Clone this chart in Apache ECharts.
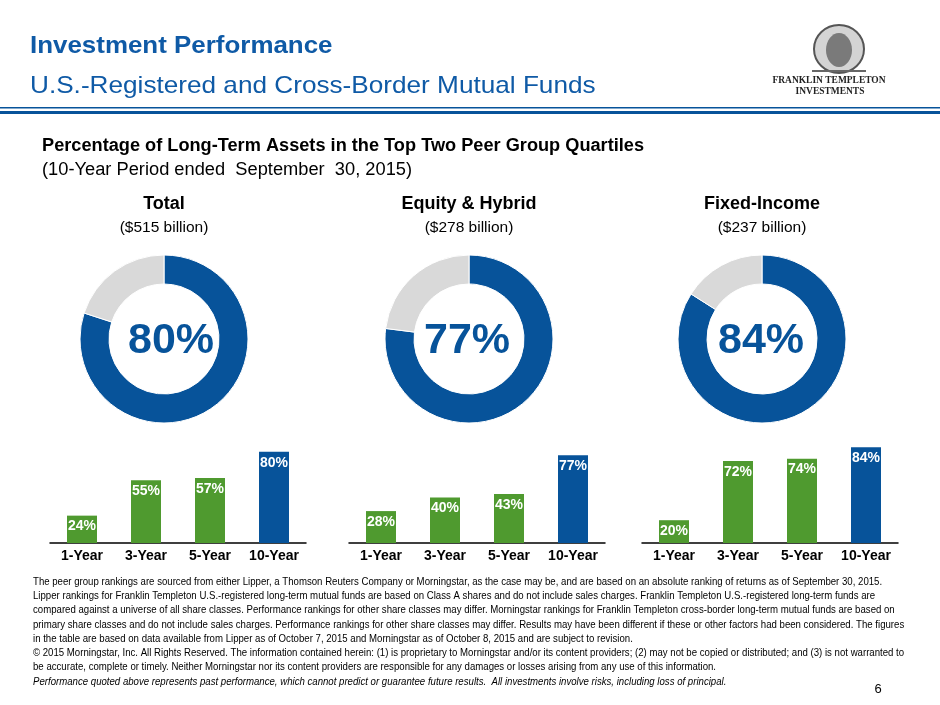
<!DOCTYPE html>
<html>
<head>
<meta charset="utf-8">
<script src="https://cdn.jsdelivr.net/npm/echarts@6/dist/echarts.min.js"></script>
<style>
  html, body { margin: 0; padding: 0; background: #fff; }
  #main { width: 940px; height: 705px; }
</style>
</head>
<body>
<div id="main"></div>
<script>
// data
var groupNames = ['Total', 'Equity & Hybrid', 'Fixed-Income'];
var groupAssets = ['($515 billion)', '($278 billion)', '($237 billion)'];
var donutPct = [80, 77, 84];
var periods = ['1-Year', '3-Year', '5-Year', '10-Year'];
var totalBars = [24, 55, 57, 80];
var equityBars = [28, 40, 43, 77];
var fixedBars = [20, 72, 74, 84];

var footLines = [
  'The peer group rankings are sourced from either Lipper, a Thomson Reuters Company or Morningstar, as the case may be, and are based on an absolute ranking of returns as of September 30, 2015.',
  'Lipper rankings for Franklin Templeton U.S.-registered long-term mutual funds are based on Class A shares and do not include sales charges. Franklin Templeton U.S.-registered long-term funds are',
  'compared against a universe of all share classes. Performance rankings for other share classes may differ. Morningstar rankings for Franklin Templeton cross-border long-term mutual funds are based on',
  'primary share classes and do not include sales charges. Performance rankings for other share classes may differ. Results may have been different if these or other factors had been considered. The figures',
  'in the table are based on data available from Lipper as of October 7, 2015 and Morningstar as of October 8, 2015 and are subject to revision.',
  '\u00a9 2015 Morningstar, Inc. All Rights Reserved. The information contained herein: (1) is proprietary to Morningstar and/or its content providers; (2) may not be copied or distributed; and (3) is not warranted to',
  'be accurate, complete or timely. Neither Morningstar nor its content providers are responsible for any damages or losses arising from any use of this information.'
];
var footItalic = 'Performance quoted above represents past performance, which cannot predict or guarantee future results.  All investments involve risks, including loss of principal.';

var BLUE = '#07539a';
var GREEN = '#4f9a2f';
var GREY = '#d9d9d9';
var TITLE = '#0f5aa6';
var FONT = '"Liberation Sans", Arial, sans-serif';
var SERIF = '"Liberation Serif", "DejaVu Serif", serif';

var centersX = [164, 469, 762];
var pctX = [171, 467, 761];
var gridLeft = [50, 349, 642];
var barSets = [totalBars, equityBars, fixedBars];

var chart = echarts.init(document.getElementById('main'), null, { renderer: 'canvas' });

var grids = [], xAxes = [], yAxes = [], series = [];
var graphics = [];

for (var i = 0; i < 3; i++) {
    grids.push({ left: gridLeft[i], width: 256, top: 429, height: 114 });
    xAxes.push({
        type: 'category', gridIndex: i, data: periods,
        axisTick: { show: false },
        axisLine: { lineStyle: { color: '#000', width: 1.5 } },
        axisLabel: { interval: 0, color: '#000', fontFamily: FONT, fontWeight: 'bold', fontSize: 14, margin: 6 }
    });
    yAxes.push({ type: 'value', gridIndex: i, min: 0, max: 100, show: false, splitLine: { show: false } });

    var bars = barSets[i];
    series.push({
        type: 'bar', xAxisIndex: i, yAxisIndex: i, barWidth: 30,
        data: bars.map(function (v, k) {
            return { value: v, itemStyle: { color: k === bars.length - 1 ? BLUE : GREEN } };
        }),
        label: {
            show: true, position: 'insideTop', distance: 4,
            formatter: '{c}%', color: '#fff', fontFamily: FONT, fontWeight: 'bold', fontSize: 14
        }
    });

    series.push({
        type: 'pie', center: [centersX[i], 339], radius: [55, 84],
        startAngle: 90, clockwise: true, silent: true,
        label: { show: false }, labelLine: { show: false },
        itemStyle: { borderColor: '#fff', borderWidth: 1 },
        data: [
            { value: donutPct[i], itemStyle: { color: BLUE } },
            { value: 100 - donutPct[i], itemStyle: { color: GREY } }
        ]
    });

    graphics.push({
        type: 'text', x: pctX[i], y: 341,
        style: { text: donutPct[i] + '%', fill: BLUE, font: 'bold 43px ' + FONT, textAlign: 'center', textVerticalAlign: 'middle' }
    });
    graphics.push({
        type: 'text', x: centersX[i], y: 204,
        style: { text: groupNames[i], fill: '#000', font: 'bold 18px ' + FONT, textAlign: 'center', textVerticalAlign: 'middle' }
    });
    graphics.push({
        type: 'text', x: centersX[i], y: 228,
        style: { text: groupAssets[i], fill: '#000', font: '15.5px ' + FONT, textAlign: 'center', textVerticalAlign: 'middle' }
    });
}

// header
graphics.push({ type: 'text', x: 30, y: 46, scaleX: 1.08, style: { text: 'Investment Performance', fill: TITLE, font: 'bold 24px ' + FONT, textVerticalAlign: 'middle' } });
graphics.push({ type: 'text', x: 30, y: 86, scaleX: 1.09, style: { text: 'U.S.-Registered and Cross-Border Mutual Funds', fill: TITLE, font: '24px ' + FONT, textVerticalAlign: 'middle' } });
graphics.push({ type: 'rect', shape: { x: 0, y: 107, width: 940, height: 1.5 }, style: { fill: BLUE } });
graphics.push({ type: 'rect', shape: { x: 0, y: 111, width: 940, height: 3 }, style: { fill: BLUE } });

// logo
graphics.push({ type: 'ellipse', shape: { cx: 839, cy: 49, rx: 25, ry: 24 }, style: { fill: '#d4d4d4', stroke: '#555', lineWidth: 2 } });
graphics.push({ type: 'ellipse', shape: { cx: 839, cy: 50, rx: 13, ry: 17 }, style: { fill: '#7a7a7a' } });
graphics.push({ type: 'rect', shape: { x: 812, y: 70, width: 54, height: 2 }, style: { fill: '#666' } });
graphics.push({ type: 'text', x: 829, y: 80, scaleX: 0.86, style: { text: 'FRANKLIN TEMPLETON', fill: '#222', font: 'bold 11px ' + SERIF, textAlign: 'center', textVerticalAlign: 'middle' } });
graphics.push({ type: 'text', x: 830, y: 91, scaleX: 0.86, style: { text: 'INVESTMENTS', fill: '#222', font: 'bold 11px ' + SERIF, textAlign: 'center', textVerticalAlign: 'middle' } });

// sub heading
graphics.push({ type: 'text', x: 42, y: 146, scaleX: 1.01, style: { text: 'Percentage of Long-Term Assets in the Top Two Peer Group Quartiles', fill: '#000', font: 'bold 18px ' + FONT, textVerticalAlign: 'middle' } });
graphics.push({ type: 'text', x: 42, y: 170, scaleX: 1.015, style: { text: '(10-Year Period ended  September  30, 2015)', fill: '#000', font: '18px ' + FONT, textVerticalAlign: 'middle' } });

// footnote
for (var j = 0; j < footLines.length; j++) {
    graphics.push({ type: 'text', x: 33, y: 581.5 + j * 14.3, scaleX: 0.837, style: { text: footLines[j], fill: '#000', font: '11.5px ' + FONT, textVerticalAlign: 'middle' } });
}
graphics.push({ type: 'text', x: 33, y: 581.5 + 7 * 14.3, scaleX: 0.837, style: { text: footItalic, fill: '#000', font: 'italic 11.5px ' + FONT, textVerticalAlign: 'middle' } });
graphics.push({ type: 'text', x: 878, y: 689, style: { text: '6', fill: '#000', font: '13px ' + FONT, textAlign: 'center', textVerticalAlign: 'middle' } });

chart.setOption({
    backgroundColor: '#fff',
    animation: false,
    grid: grids,
    xAxis: xAxes,
    yAxis: yAxes,
    series: series,
    graphic: graphics
});

window.onresize = function () {
    chart.resize();
};
</script>
</body>
</html>
